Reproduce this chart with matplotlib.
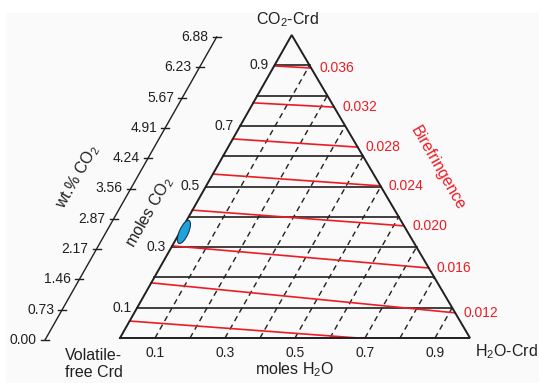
import numpy as np
import matplotlib.pyplot as plt
from matplotlib.patches import Ellipse, Rectangle

plt.rcParams['font.family'] = ['Liberation Sans', 'DejaVu Sans']
plt.rcParams['mathtext.fontset'] = 'custom'
plt.rcParams['mathtext.rm'] = 'Liberation Sans'
plt.rcParams['mathtext.it'] = 'Liberation Sans:italic'

# mole fraction grid
grid = [0.1, 0.2, 0.3, 0.4, 0.5, 0.6, 0.7, 0.8, 0.9]
co2_ticks = [0.1, 0.3, 0.5, 0.7, 0.9]
h2o_ticks = [0.1, 0.3, 0.5, 0.7, 0.9]

# wt.% CO2 scale (at moles CO2 = 0, 0.1, ... 1.0)
wt_pos = [0.0, 0.1, 0.2, 0.3, 0.4, 0.5, 0.6, 0.7, 0.8, 0.9, 1.0]
wt_labels = ['0.00', '0.73', '1.46', '2.17', '2.87', '3.56', '4.24', '4.91', '5.67', '6.23', '6.88']

# birefringence contours: start on the H2O-free edge, end on right edge / base
biref_labels = ['0.036', '0.032', '0.028', '0.024', '0.020', '0.016', '0.012', '']
biref_start_co2 = [0.898, 0.776, 0.657, 0.541, 0.422, 0.304, 0.182, 0.056]
biref_end_h2o = [0.109, 0.238, 0.370, 0.498, 0.630, 0.769, 0.917, 0.68]
biref_end_co2 = [0.891, 0.762, 0.630, 0.502, 0.370, 0.231, 0.083, 0.0]

# measured sample (blue ellipse)
sample_h2o, sample_co2 = 0.011, 0.35

SKEW = 171.7 / 350   # apex sits a bit left of centre
HGT = 303 / 350
BLK = '#231f20'
RED = '#ed1c24'


def tern(h, c):
    h = np.asarray(h, dtype=float)
    c = np.asarray(c, dtype=float)
    return h + SKEW * c, HGT * c


fig = plt.figure(figsize=(5.39, 3.83), dpi=100)
fig.patches.append(Rectangle((6 / 539, 0), 1, 370 / 383, transform=fig.transFigure,
                             color='#fafafa', zorder=-5))
ax = fig.add_axes([0, 0, 1, 1])
ax.set_xlim(-120 / 350, 419 / 350)
ax.set_ylim(-45 / 350, 338 / 350)
ax.axis('off')

# dashed lines of constant H2O
for h in grid:
    x, y = tern([h, h], [0, 1 - h])
    ax.plot(x, y, color=BLK, lw=1.0, ls=(0, (4, 3)), zorder=1)

# solid lines of constant CO2
for c in grid:
    x, y = tern([0, 1 - c], [c, c])
    ax.plot(x, y, color=BLK, lw=1.2, zorder=2)

# birefringence contours
for lab, c0, h1, c1 in zip(biref_labels, biref_start_co2, biref_end_h2o, biref_end_co2):
    x, y = tern([0, h1], [c0, c1])
    ax.plot(x, y, color=RED, lw=1.2, zorder=3)
    if lab:
        ax.annotate(lab, (x[1], y[1]), xytext=(8, 0), textcoords='offset pixels',
                    ha='left', va='center', color=RED, fontsize=10)

# triangle outline
x, y = tern([0, 1, 0, 0], [0, 0, 1, 0])
ax.plot(x, y, color=BLK, lw=1.4, zorder=4, solid_joinstyle='miter')

# sample ellipse
ex, ey = tern(sample_h2o, sample_co2)
ax.add_patch(Ellipse((ex, ey), 25 / 350, 9 / 350, angle=66, facecolor='#1fa3dd',
                     edgecolor='#1b3550', lw=0.8, zorder=5))

# CO2 tick labels (left edge)
for c in co2_ticks:
    ax.annotate(f'{c:.1f}', tern(0, c), xytext=(-6, 0), textcoords='offset pixels',
                ha='right', va='center', fontsize=10, color=BLK)

# H2O tick labels (base)
for h in h2o_ticks:
    ax.annotate(f'{h:.1f}', tern(h, 0), xytext=(0, -15), textcoords='offset pixels',
                ha='center', va='center', fontsize=10, color=BLK)

# wt.% CO2 axis, parallel to left edge
dx, dy = -75 / 350, -2 / 350
x, y = tern([0, 0], [0, 1])
ax.plot(x + dx, y + dy, color=BLK, lw=1.0)
for c, lab in zip(wt_pos, wt_labels):
    tx, ty = tern(0, c)
    ax.plot([tx + dx - 4 / 350, tx + dx + 4 / 350], [ty + dy, ty + dy], color=BLK, lw=1.0)
    ax.annotate(lab, (tx + dx, ty + dy), xytext=(-8, 0), textcoords='offset pixels',
                ha='right', va='center', fontsize=10, color=BLK)


def px(X, Y):
    return (X - 120) / 350, (338 - Y) / 350


ax.text(*px(78, 177), 'wt.% CO$_2$', rotation=60, rotation_mode='anchor',
        ha='center', va='center', fontsize=11.5, color=BLK)
ax.text(*px(150, 212), 'moles CO$_2$', rotation=60, rotation_mode='anchor',
        ha='center', va='center', fontsize=11.5, color=BLK)
ax.text(*px(438, 168), 'Birefringence', rotation=-60, rotation_mode='anchor',
        ha='center', va='center', fontsize=11.5, color=RED)

# corner and axis titles
ax.annotate('CO$_2$-Crd', tern(0, 1), xytext=(-4, 15), textcoords='offset pixels',
            ha='center', va='center', fontsize=11.5, color=BLK)
ax.annotate('H$_2$O-Crd', tern(1, 0), xytext=(5, -14), textcoords='offset pixels',
            ha='left', va='center', fontsize=11.5, color=BLK)
ax.annotate('Volatile-\nfree Crd', tern(0, 0), xytext=(-55, -26), textcoords='offset pixels',
            ha='left', va='center', fontsize=11.5, color=BLK, linespacing=1.1)
ax.annotate('moles H$_2$O', tern(0.5, 0), xytext=(0, -32), textcoords='offset pixels',
            ha='center', va='center', fontsize=11.5, color=BLK)

fig.savefig('out.png', dpi=100)
